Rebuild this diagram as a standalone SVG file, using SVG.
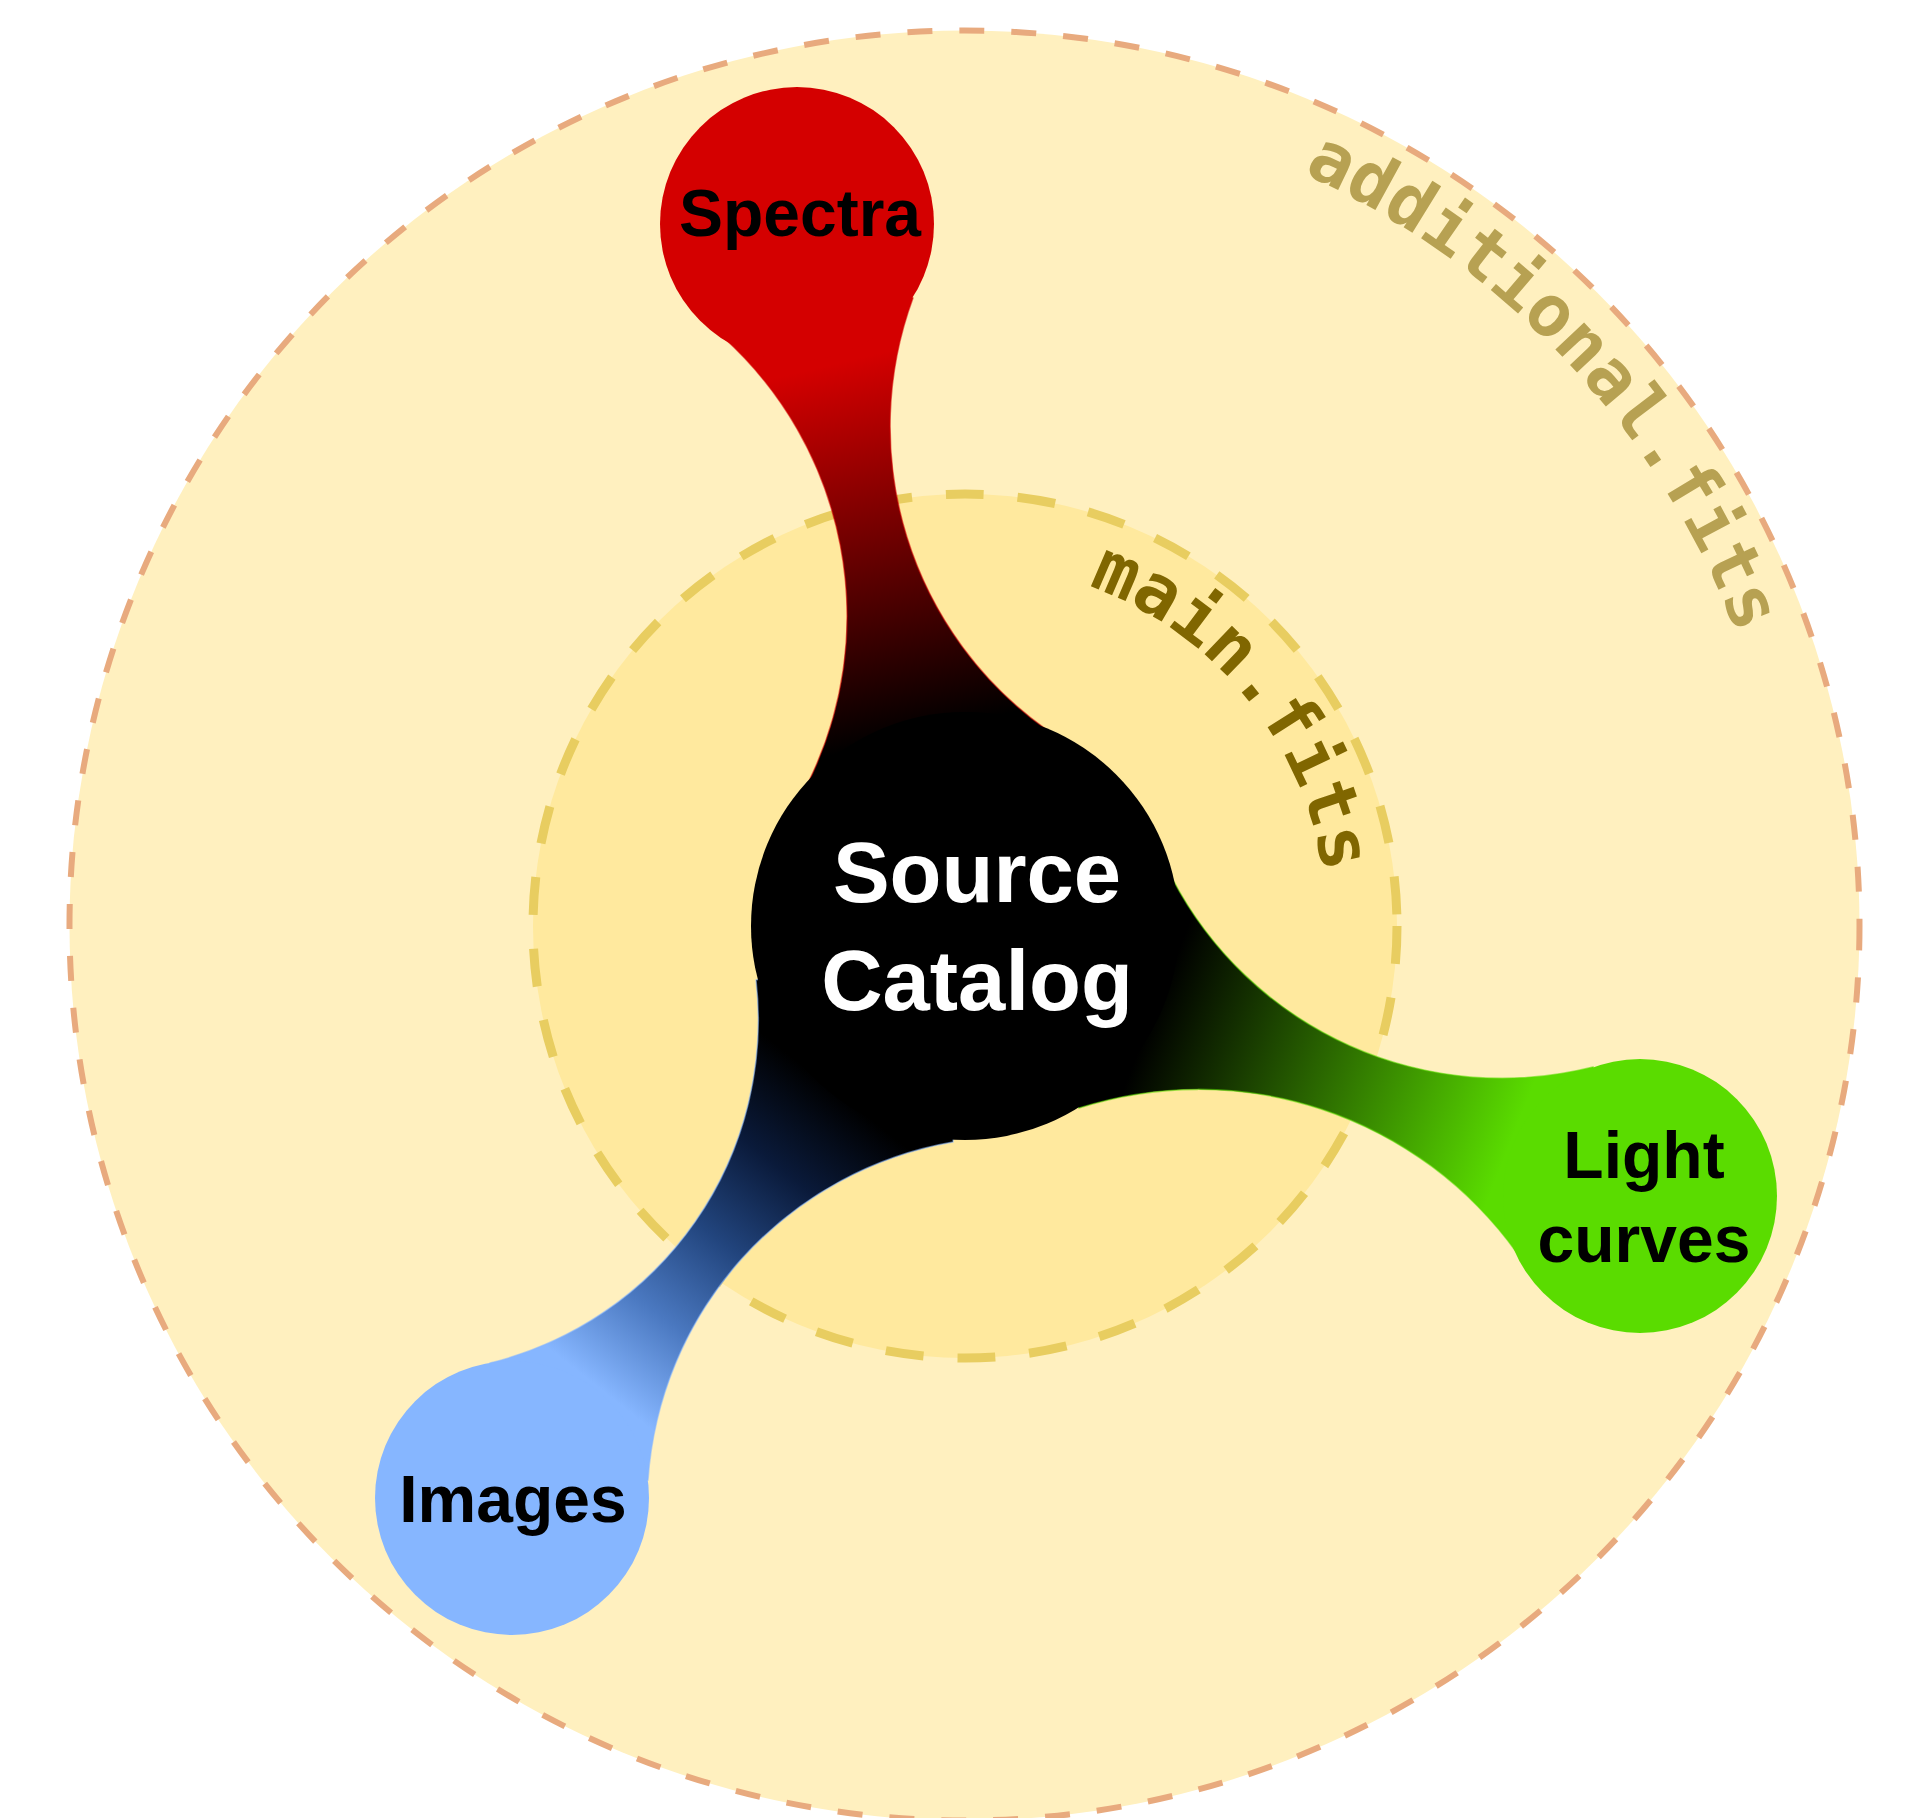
<svg xmlns="http://www.w3.org/2000/svg" xmlns:xlink="http://www.w3.org/1999/xlink" width="1908" height="1818" viewBox="0 0 1908 1818">
<style>
.label{font-family:"Liberation Sans",Arial,sans-serif;font-weight:bold;text-anchor:middle;}
.ring-text{font-family:"DejaVu Sans Mono","Liberation Mono",monospace;font-weight:bold;font-size:72px;}
.band{stroke-width:1.5;stroke-opacity:0.55;}
</style>
<defs>
<linearGradient id="gRed" gradientUnits="userSpaceOnUse" x1="830" y1="365" x2="918" y2="735">
<stop offset="0" stop-color="#d40000"/><stop offset="1" stop-color="#000000"/>
</linearGradient>
<linearGradient id="gGreen" gradientUnits="userSpaceOnUse" x1="1510" y1="1144" x2="1157" y2="1004">
<stop offset="0" stop-color="#5adc00"/><stop offset="1" stop-color="#000000"/>
</linearGradient>
<linearGradient id="gBlue" gradientUnits="userSpaceOnUse" x1="599" y1="1388" x2="834" y2="1090">
<stop offset="0" stop-color="#86b6ff"/><stop offset="0.25" stop-color="#4a78c0"/><stop offset="0.5" stop-color="#22457e"/><stop offset="0.75" stop-color="#0a1a3a"/><stop offset="1" stop-color="#000000"/>
</linearGradient>
<path id="pOuter" d="M 140,926 A 825 825 0 1 1 1790,926 A 825 825 0 1 1 140,926"/>
<path id="pInner" d="M 603,926 A 362 362 0 1 1 1327,926 A 362 362 0 1 1 603,926"/>
</defs>
<g id="ring-additional">
<circle cx="964.5" cy="925.5" r="895" fill="#fff0bf" stroke="#e8aa7e" stroke-width="6" stroke-dasharray="25 27"/>
<text class="ring-text" fill="#b7a152"><textPath xlink:href="#pOuter" href="#pOuter" startOffset="1969" text-anchor="middle">additional.fits</textPath></text>
</g>
<g id="ring-main">
<circle cx="965" cy="926" r="432" fill="#ffe99e" stroke="#e8cd60" stroke-width="9" stroke-dasharray="38 34"/>
<text class="ring-text" fill="#806600"><textPath xlink:href="#pInner" href="#pInner" startOffset="889" text-anchor="middle">main.fits</textPath></text>
</g>
<g id="connectors">
<path id="band-spectra" class="band" fill="url(#gRed)" stroke="#d40000" d="M 723,337 A 376 376 0 0 1 808,783 L 965,926 L 1047,730 A 372 372 0 0 1 913,298 L 797,224 Z"/>
<path id="band-lightcurves" class="band" fill="url(#gGreen)" stroke="#5adc00" d="M 1172,878 A 372 372 0 0 0 1593,1067 L 1640,1196 L 1517,1253 A 392 392 0 0 0 1079,1108 L 965,926 Z"/>
<path id="band-images" class="band" fill="url(#gBlue)" stroke="#86b6ff" d="M 756,980 A 353 353 0 0 1 490,1363 L 512,1498 L 648,1480 A 369 369 0 0 1 953,1142 L 965,926 Z"/>
</g>
<g id="node-source">
<circle cx="965" cy="926" r="214" fill="#000000"/>
<text class="label" x="977" y="902" font-size="85" fill="#ffffff">Source</text>
<text class="label" x="977" y="1010" font-size="85" fill="#ffffff">Catalog</text>
</g>
<g id="node-spectra">
<circle cx="797" cy="224" r="137" fill="#d40000"/>
<text class="label" x="800" y="236" font-size="66" fill="#000000">Spectra</text>
</g>
<g id="node-lightcurves">
<circle cx="1640" cy="1196" r="137" fill="#5adc00"/>
<text class="label" x="1644" y="1178" font-size="66" fill="#000000">Light</text>
<text class="label" x="1644" y="1262" font-size="66" fill="#000000">curves</text>
</g>
<g id="node-images">
<circle cx="512" cy="1498" r="137" fill="#86b6ff"/>
<text class="label" x="513" y="1522" font-size="66" fill="#000000">Images</text>
</g>
</svg>
